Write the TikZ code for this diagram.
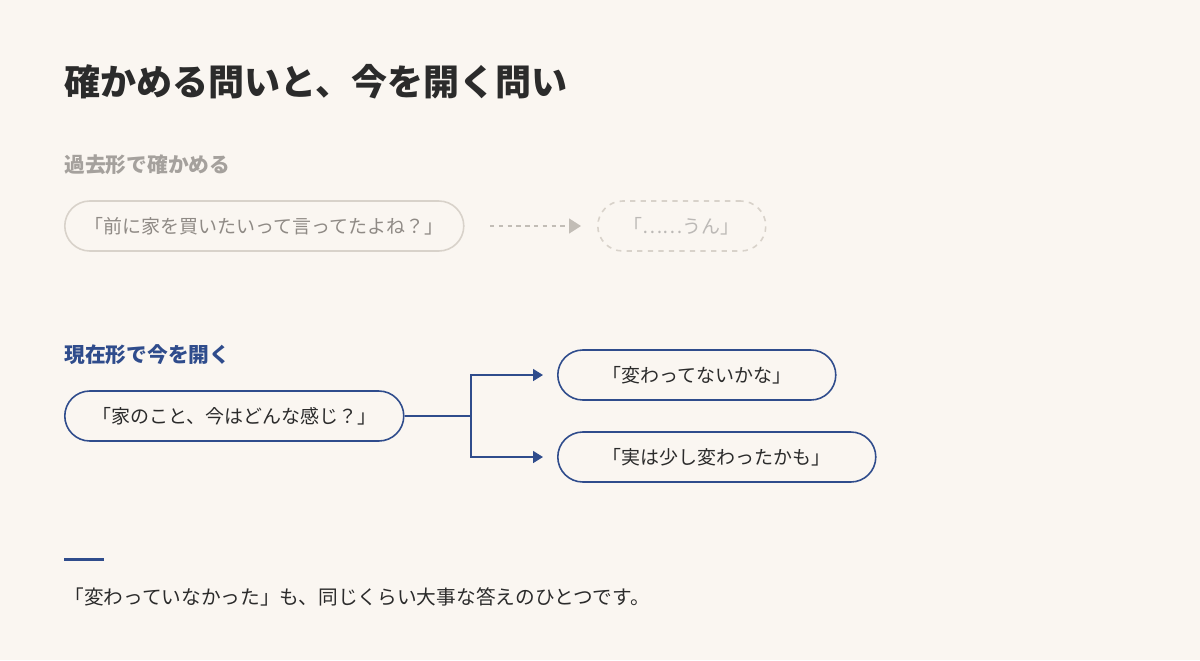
\documentclass[tikz,border=0pt]{standalone}
\usepackage{fontspec}
\setmainfont{Noto Sans CJK JP}
\usetikzlibrary{positioning, arrows.meta}
\definecolor{bgcol}{HTML}{FAF6F1}
\definecolor{ink}{HTML}{2B2B2B}
\definecolor{navy}{HTML}{2F4C8C}
\definecolor{mute}{HTML}{8F8A85}
\definecolor{faint}{HTML}{D8D2CA}
\tikzset{
  pill/.style={draw, rounded corners=25*0.02cm, line width=0.9pt, minimum height=50*0.02cm, anchor=west, font=\fontsize{10.8}{13}\selectfont, inner xsep=0pt},
  past/.style={pill, draw=faint, text=mute},
  now/.style={pill, draw=navy, text=ink},
  head/.style={anchor=base west, font=\fontsize{11.8}{14}\selectfont\bfseries}
}
\begin{document}
\begin{tikzpicture}[x=0.02cm, y=-0.02cm]
        \fill[bgcol] (0,0) rectangle (1200,660);
        \useasboundingbox (0,0) rectangle (1200,660);
        \node[anchor=base west, text=ink, font=\fontsize{20.5}{24}\selectfont\bfseries, inner sep=0pt] (title) at (64,95) {確かめる問いと、今を開く問い};
        %---------------------------
        \node[head, text=mute!80, inner sep=0pt] (h1) at (64,172) {過去形で確かめる};
        \node[past, minimum width=399*0.02cm] (q1) at (64,226) {「前に家を買いたいって言ってたよね？」};
        \node[past, draw=faint, dashed, text=mute!60, minimum width=168*0.02cm] (a1) at (597,226) {「……うん」};
        \coordinate (d1) at (490,226);
        \draw[faint!90!black, dash pattern=on 2.5pt off 2.5pt, line width=0.8pt, -{Triangle[length=12*0.02cm, width=15*0.02cm]}] (d1) -- (581,226);
        %---------------------------
        \node[head, text=navy, inner sep=0pt] (h2) at (64,362) {現在形で今を開く};
        \node[now, minimum width=339*0.02cm] (q2) at (64,416) {「家のこと、今はどんな感じ？」};
        \node[now, minimum width=278*0.02cm] (a2) at (557,375) {「変わってないかな」};
        \node[now, minimum width=318*0.02cm] (a3) at (557,457) {「実は少し変わったかも」};
        \coordinate (j) at (471,416);
        \draw[navy, line width=0.9pt] (q2.east) -- (j);
        \draw[navy, line width=0.9pt, -{Triangle[length=10*0.02cm, width=12*0.02cm]}] (j) |- ([xshift=-14*0.02cm]a2.west);
        \draw[navy, line width=0.9pt, -{Triangle[length=10*0.02cm, width=12*0.02cm]}] (j) |- ([xshift=-14*0.02cm]a3.west);
        %---------------------------
        \draw[navy, line width=1.7pt] (64,559) -- (104,559);
        \node[anchor=base west, text=ink, font=\fontsize{11.2}{13}\selectfont, inner sep=0pt] (note) at (64,604) {「変わっていなかった」も、同じくらい大事な答えのひとつです。};
\end{tikzpicture}
\end{document}
